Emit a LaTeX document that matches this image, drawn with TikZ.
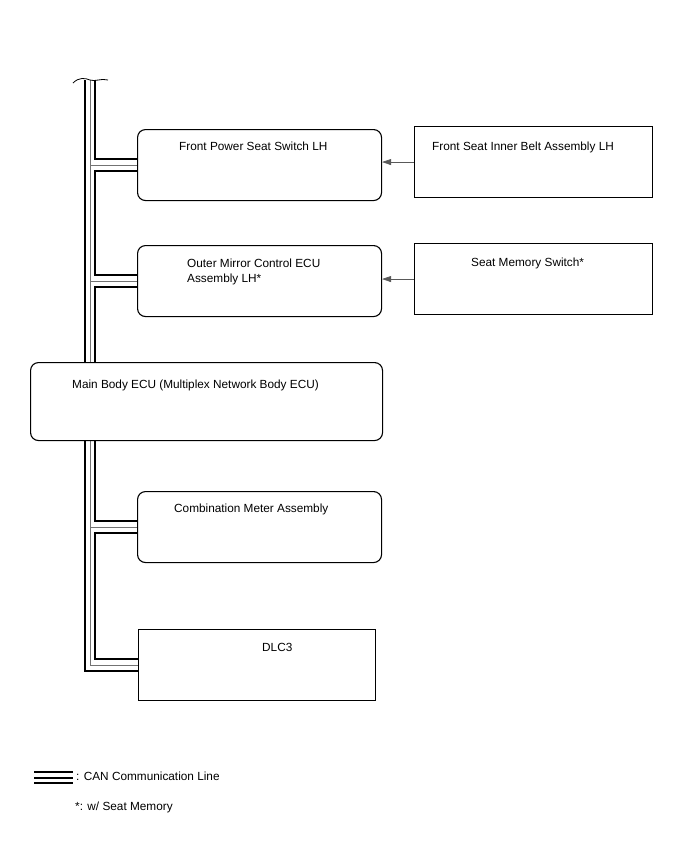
\documentclass[tikz,border=0pt]{standalone}
\usepackage{fontspec}
\setmainfont{Liberation Sans}
\usetikzlibrary{arrows.meta}

\begin{document}
\begin{tikzpicture}[x=1pt, y=-1pt,
        ecu/.style={draw, line width=1.1pt, rounded corners=8pt, fill=white, inner sep=0pt, anchor=north west},
        part/.style={draw, line width=1.1pt, fill=white, inner sep=0pt, anchor=north west},
        lbl/.style={anchor=base west, inner sep=0pt, align=left, font=\fontsize{11.8}{15}\selectfont},
        canout/.style={line width=2pt},
        canmid/.style={line width=1pt, black!55},
        sig/.style={line width=0.6pt, gray!70!black, -{Triangle[length=9pt, width=6pt]}}]

            \useasboundingbox (0,0) rectangle (688,852);
            \def\W{244}
            \def\H{71}

            % boxes, only their frames
            \node[ecu, minimum width=\W, minimum height=\H] (fps) at (137,129) {};
            \node[part, minimum width=238, minimum height=\H] (belt) at (414,126) {};
            \node[ecu, minimum width=\W, minimum height=\H] (omc) at (137,245) {};
            \node[part, minimum width=238, minimum height=\H] (smem) at (414,243) {};
            \node[ecu, minimum width=\W, minimum height=\H] (cma) at (137,491) {};
            \node[part, minimum width=237, minimum height=\H] (dlc) at (138,629) {};

            % CAN bus
            \draw[canout] (85,80) |- ([yshift=-6pt]dlc.west);
            \draw[canmid] (90,80) |- (dlc.west);
            \foreach \n in {fps, omc, cma} {
                    \draw[canmid] (90,0 |- \n.west) -- (\n.west);
                }
            \draw[canout] (95,80) |- ([yshift=6pt]fps.west);
            \foreach \a/\b in {fps/omc, omc/cma, cma/dlc} {
                    \draw[canout] ([yshift=-6pt]\a.west) -- ++(-42,0) |- ([yshift=6pt]\b.west);
                }
            \draw[line width=0.8pt] (73,83) .. controls (79,77) and (85,78) .. (90,80)
                .. controls (95,82) and (101,78) .. (108,80);

            \node[ecu, minimum width=352, minimum height=78] (mb) at (30,362) {};

            \draw[sig] (belt.west) -- (belt.west -| fps.east);
            \draw[sig] (smem.west) -- (smem.west -| omc.east);

            % texts
            \node[lbl] (tfps) at (179,150) {Front Power Seat Switch LH};
            \node[lbl] (tbelt) at (432,150) {Front Seat Inner Belt Assembly LH};
            \node[lbl] (tomc) at (187,282) {Outer Mirror Control ECU\\Assembly LH*};
            \node[lbl] (tsmem) at (471,266) {Seat Memory Switch*};
            \node[lbl] (tmb) at (72,388) {Main Body ECU (Multiplex Network Body ECU)};
            \node[lbl] (tcma) at (174,512) {Combination Meter Assembly};
            \node[lbl] (tdlc) at (262,651) {DLC3};

            % legend
            \foreach \y in {772, 777.5, 783} {
                    \draw[line width=2pt] (34,\y) -- (73,\y);
                }
            \node[lbl] (tcan) at (76,780) {: CAN Communication Line};
            \node[lbl] (tnote) at (75,810) {*: w/ Seat Memory};

\end{tikzpicture}
\end{document}
